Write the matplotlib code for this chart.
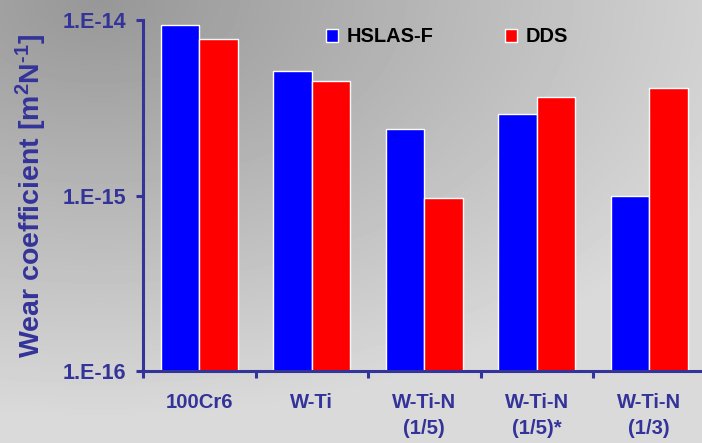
import numpy as np
import matplotlib
matplotlib.use('Agg')
import matplotlib.pyplot as plt
from matplotlib.ticker import FixedLocator, NullLocator, NullFormatter

# data
materials = ['100Cr6', 'W-Ti', 'W-Ti-N\n(1/5)', 'W-Ti-N\n(1/5)*', 'W-Ti-N\n(1/3)']
hslas = [9.4e-15, 5.1e-15, 2.4e-15, 2.9e-15, 9.9e-16]
dds = [7.8e-15, 4.5e-15, 9.7e-16, 3.65e-15, 4.1e-15]
ytick_vals = [1e-16, 1e-15, 1e-14]
ytick_labels = ['1.E-16', '1.E-15', '1.E-14']

navy = '#333399'
plt.rcParams['font.family'] = 'Liberation Sans'
plt.rcParams['font.weight'] = 'bold'
plt.rcParams['mathtext.fontset'] = 'custom'
plt.rcParams['mathtext.rm'] = 'Liberation Sans:bold'
plt.rcParams['mathtext.bf'] = 'Liberation Sans:bold'
plt.rcParams['mathtext.default'] = 'rm'

fig = plt.figure(figsize=(7.02, 4.43), dpi=100)

# grey shaded background, darkest towards the top left
bg = fig.add_axes([0, 0, 1, 1], zorder=-1)
yy, xx = np.mgrid[0:443, 0:702]
d = np.sqrt(((xx - 100) / 700.0) ** 2 + (yy / 420.0) ** 2)
shade = 151 + 67 * np.clip(d, 0, 1)
bg.imshow(shade, cmap='gray', vmin=0, vmax=255, aspect='auto', interpolation='bilinear')
bg.axis('off')

ax = fig.add_axes([143 / 702, 1 - 371 / 443, 562.5 / 702, 351 / 443])
ax.set_facecolor('none')

x = np.arange(len(materials))
w = 0.342
ax.bar(x - w / 2, hslas, w, color='#0000ff', edgecolor='white', linewidth=1, label='HSLAS-F')
ax.bar(x + w / 2, dds, w, color='#ff0000', edgecolor='white', linewidth=1, label='DDS')

ax.set_yscale('log')
ax.set_ylim(1e-16, 1e-14)
ax.set_xlim(-0.5, len(materials) - 0.5)

ax.set_yticks(ytick_vals, ytick_labels, fontweight='bold', fontsize=15.5, color=navy)
ax.yaxis.set_minor_locator(NullLocator())
ax.yaxis.set_minor_formatter(NullFormatter())

# ticks between groups, labels under group centres
ax.xaxis.set_major_locator(FixedLocator(np.arange(len(materials) + 1) - 0.5))
ax.xaxis.set_major_formatter(NullFormatter())
ax.set_xticks(x, materials, minor=True, fontweight='bold', fontsize=14.6,
              color=navy, linespacing=1.45)

for s in ['top', 'right']:
    ax.spines[s].set_visible(False)
for s in ['left', 'bottom']:
    ax.spines[s].set_color(navy)
    ax.spines[s].set_linewidth(2.2)

ax.tick_params(axis='y', which='major', length=5, width=2.2, color=navy, pad=7)
ax.tick_params(axis='x', which='major', length=5, width=2.2, color=navy)
ax.tick_params(axis='x', which='minor', length=0, pad=16)

fig.text(31 / 702, 1 - 196 / 443, r'Wear coefficient [m$^{2}$N$^{\text{-}1}$]',
         rotation=90, ha='center', va='center', color=navy,
         fontsize=20.5, fontweight='bold')

leg = ax.legend(loc='center', bbox_to_anchor=(447 / 702, 1 - 37 / 443),
                bbox_transform=fig.transFigure, ncol=2, frameon=False,
                handlelength=0.6, handleheight=0.6, handletextpad=0.4,
                columnspacing=3.6, prop={'size': 14.4, 'weight': 'bold'})

fig.savefig('out.png', dpi=100)
